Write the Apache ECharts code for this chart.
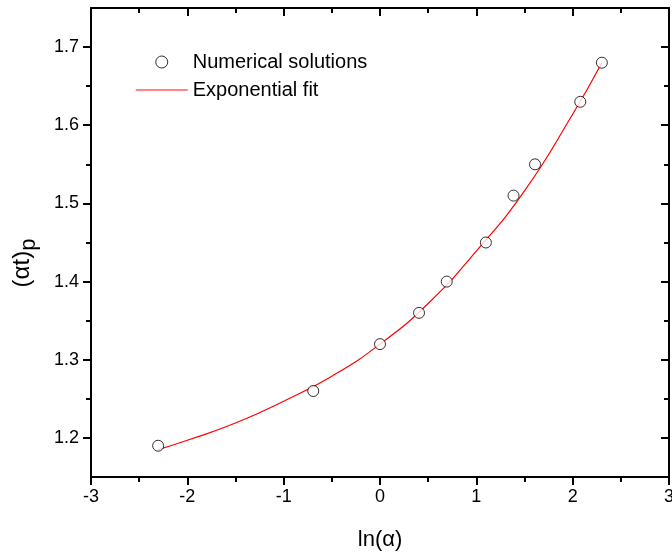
<!DOCTYPE html>
<html lang="en">
<head>
    <meta charset="UTF-8">
    <title>(αt)p vs ln(α)</title>
    <script src="https://cdn.jsdelivr.net/npm/echarts@6/dist/echarts.min.js"></script>
    <style>
        html, body { margin: 0; padding: 0; background: #fff; }
        #main { width: 672px; height: 554px; }
    </style>
</head>
<body>
<div id="main"></div>
<script>
    // numerical solutions (circles)
    var lnAlpha = [-2.303, -0.693, 0, 0.405, 0.693, 1.099, 1.386, 1.609, 2.079, 2.303];
    var atPeak = [1.19, 1.26, 1.32, 1.36, 1.40, 1.45, 1.51, 1.55, 1.63, 1.68];

    // exponential fit (red line)
    var fitX = [-2.303, -2, -1.5, -1, -0.5, 0, 0.5, 1, 1.5, 2, 2.303];
    var fitY = [1.185, 1.197, 1.219, 1.247, 1.279, 1.320, 1.372, 1.439, 1.516, 1.614, 1.680];

    // y ticks
    var yMajor = [1.2, 1.3, 1.4, 1.5, 1.6, 1.7];
    var yMinor = [1.25, 1.35, 1.45, 1.55, 1.65];

    var font = 'Liberation Sans, Arial, sans-serif';

    var points = [], fit = [];
    for (var i = 0; i < lnAlpha.length; i++) points.push([lnAlpha[i], atPeak[i]]);
    for (var i = 0; i < fitX.length; i++) fit.push([fitX[i], fitY[i]]);

    var chart = echarts.init(document.getElementById('main'));

    function xAx(pos, inside, showLabel) {
        return {
            type: 'value', min: -3, max: 3, interval: 1,
            position: pos,
            axisLine: { onZero: false, lineStyle: { color: '#000', width: 2 } },
            axisTick: { show: true, inside: inside, length: 8, lineStyle: { width: 2 } },
            minorTick: { show: true, splitNumber: 2, length: 5, lineStyle: { color: '#000', width: 2 } },
            axisLabel: { show: showLabel, fontFamily: font, fontSize: 18, color: '#000', margin: 11 },
            splitLine: { show: false }
        };
    }

    function yAx(pos, inside, ticks, len, showLine, showLabel) {
        return {
            type: 'value', min: 1.15, max: 1.75, interval: 0.05,
            position: pos,
            axisLine: { show: showLine, onZero: false, lineStyle: { color: '#000', width: 2 } },
            axisTick: { show: true, inside: inside, length: len, customValues: ticks, lineStyle: { color: '#000', width: 2 } },
            axisLabel: {
                show: showLabel, customValues: ticks,
                fontFamily: font, fontSize: 18, color: '#000', margin: 12,
                formatter: function (v) { return v.toFixed(1); }
            },
            splitLine: { show: false }
        };
    }

    var option = {
        backgroundColor: '#fff',
        animation: false,
        grid: { left: 91, right: 3, top: 8, bottom: 77, outerBoundsMode: 'none', containLabel: false },
        legend: {
            orient: 'vertical',
            left: 130, top: 47,
            itemWidth: 52, itemHeight: 12,
            itemGap: 8,
            textStyle: { fontFamily: font, fontSize: 20, color: '#000' },
            data: [
                { name: 'Numerical solutions', icon: 'circle',
                  itemStyle: { color: '#fff', borderColor: '#000', borderWidth: 1 } },
                { name: 'Exponential fit',
                  itemStyle: { opacity: 0 },
                  lineStyle: { color: '#ff5c5c', width: 1.5 } }
            ]
        },
        xAxis: [
            Object.assign(xAx('bottom', false, true), {
                name: 'ln(α)', nameLocation: 'middle', nameGap: 52,
                nameTextStyle: { fontFamily: font, fontSize: 22, color: '#000' }
            }),
            xAx('top', true, false)
        ],
        yAxis: [
            yAx('left', false, yMajor, 8, true, true),
            yAx('left', false, yMinor, 5, false, false),
            yAx('right', true, yMajor, 8, true, false),
            yAx('right', true, yMinor, 5, false, false)
        ],
        graphic: [{
            type: 'text',
            x: 22, y: 263,
            rotation: Math.PI / 2,
            style: {
                text: '{m|(αt)}{s|p}',
                align: 'center', verticalAlign: 'middle',
                rich: {
                    m: { fontFamily: font, fontSize: 24, fill: '#000' },
                    s: { fontFamily: font, fontSize: 22, fill: '#000', padding: [14, 0, 0, 0] }
                }
            }
        }],
        series: [{
            name: 'Exponential fit',
            type: 'line',
            smooth: true,
            showSymbol: false,
            symbol: 'none',
            data: fit,
            lineStyle: { color: '#ff0000', width: 1.2 },
            itemStyle: { color: '#ff0000' },
            z: 2
        }, {
            name: 'Numerical solutions',
            type: 'scatter',
            symbol: 'circle',
            symbolSize: 11,
            data: points,
            itemStyle: { color: '#fff', borderColor: '#000', borderWidth: 1 },
            z: 3
        }]
    };

    chart.setOption(option);
</script>
</body>
</html>
